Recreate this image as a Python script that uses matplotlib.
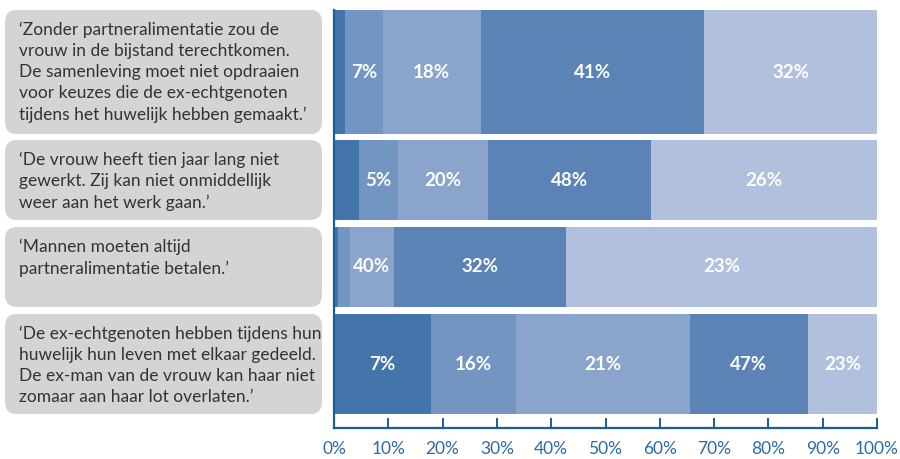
import matplotlib
matplotlib.use("Agg")
import matplotlib.pyplot as plt
from matplotlib.patches import FancyBboxPatch
import numpy as np

# ---- data ----
statements = [
    "‘Zonder partneralimentatie zou de\nvrouw in de bijstand terechtkomen.\nDe samenleving moet niet opdraaien\nvoor keuzes die de ex-echtgenoten\ntijdens het huwelijk hebben gemaakt.’",
    "‘De vrouw heeft tien jaar lang niet\ngewerkt. Zij kan niet onmiddellijk\nweer aan het werk gaan.’",
    "‘Mannen moeten altijd\npartneralimentatie betalen.’",
    "‘De ex-echtgenoten hebben tijdens hun\nhuwelijk hun leven met elkaar gedeeld.\nDe ex-man van de vrouw kan haar niet\nzomaar aan haar lot overlaten.’",
]
seg1 = [2.0, 4.6, 0.7, 17.9]
seg2 = [7.0, 7.2, 2.3, 15.6]
seg3 = [18.0, 16.6, 8.0, 32.0]
seg4 = [41.2, 30.0, 31.7, 21.8]
seg5 = [31.8, 41.6, 57.3, 12.7]
# printed labels (None = no label)
lab1 = [None, None, None, 7]
lab2 = [7, 5, None, 16]
lab3 = [18, 20, 40, 21]
lab4 = [41, 48, 32, 47]
lab5 = [32, 26, 23, 23]
xticks = [0, 10, 20, 30, 40, 50, 60, 70, 80, 90, 100]

# ---- layout (pixel coordinates, y downward) ----
W, H = 900, 459
bar_top = [10, 140, 227, 314]
bar_h = [124, 80, 80, 100]
colors = ["#4375AB", "#7295C2", "#8AA4CB", "#5B83B6", "#B0C0DD"]
axis_col = "#1B5C99"
tick_col = "#2C6AA6"

fig = plt.figure(figsize=(W / 100, H / 100), dpi=100)
fig.patch.set_facecolor("white")
x0, x1 = 334, 877
y_top, y_bot = 10, 428
ax = fig.add_axes([x0 / W, 1 - y_bot / H, (x1 - x0) / W, (y_bot - y_top) / H])
ax.set_xlim(0, 100)
ax.set_ylim(y_bot, y_top)

segs = [seg1, seg2, seg3, seg4, seg5]
labs = [lab1, lab2, lab3, lab4, lab5]
centers = [t + h / 2 for t, h in zip(bar_top, bar_h)]
left = np.zeros(4)
for s, lab, c in zip(segs, labs, colors):
    vals = np.array(s)
    ax.barh(centers, vals, height=bar_h, left=left, color=c, edgecolor="none", zorder=2)
    for i, (v, l) in enumerate(zip(vals, lab)):
        if l is not None:
            ax.text(left[i] + v / 2, centers[i], f"{l}%", ha="center", va="center",
                    color="white", fontsize=13.5, fontweight="bold", family="Lato", zorder=3)
    left += vals

for sp in ["top", "right"]:
    ax.spines[sp].set_visible(False)
for sp in ["left", "bottom"]:
    ax.spines[sp].set_color(axis_col)
    ax.spines[sp].set_linewidth(1.6)
ax.spines["left"].set_zorder(4)
ax.set_yticks([])
ax.set_xticks(xticks)
ax.set_xticklabels([f"{t}%" for t in xticks], color=tick_col, fontsize=12.5, family="Lato")
ax.tick_params(axis="x", direction="in", length=7, width=1.4, color=axis_col, pad=9)

# ---- statement boxes ----
ov = fig.add_axes([0, 0, 1, 1], zorder=-1)
ov.set_xlim(0, W)
ov.set_ylim(H, 0)
ov.axis("off")
for t, h, txt in zip(bar_top, bar_h, statements):
    box = FancyBboxPatch((5 + 12, t + 12), 317 - 24, h - 24,
                         boxstyle="round,pad=12", facecolor="#D4D4D4", edgecolor="none")
    ov.add_patch(box)
    ov.text(19, t + 12, txt, ha="left", va="top", fontsize=12.5, family="Lato",
            color="#333333", linespacing=1.38)

fig.savefig("out.png", dpi=100)
